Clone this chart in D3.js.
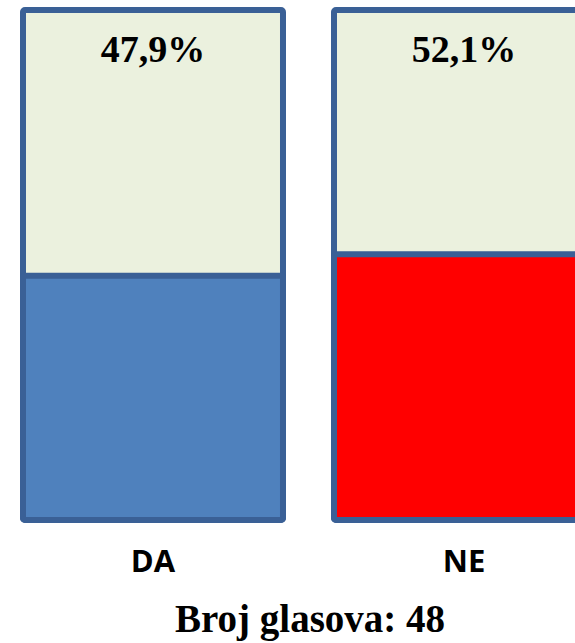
<!DOCTYPE html>
<html>
<head>
<meta charset="utf-8">
<script src="https://cdn.jsdelivr.net/npm/d3@7"></script>
<style>
  html, body { margin: 0; padding: 0; background: #fff; }
  svg { display: block; }
</style>
</head>
<body>
<svg id="chart" width="575" height="643"></svg>
<script>
const categories = ["DA", "NE"];
const percentValues = [47.9, 52.1];
const percentLabels = ["47,9%", "52,1%"];
const fillColors = ["#4F81BD", "#FF0000"];
const footerText = "Broj glasova: 48";

const svg = d3.select("#chart");
const strokeW = 6;
const borderColor = "#3A6096";
const emptyColor = "#EBF1DE";

const x = d3.scaleBand().domain(categories).range([20, 597]).paddingInner(0.1447).paddingOuter(0);
const y = d3.scaleLinear().domain([0, 100]).range([520, 10]);

const g = svg.append("g");
const bars = g.selectAll("g.bar").data(categories).join("g").attr("class", "bar");

// full container (empty part)
bars.append("rect")
  .attr("x", d => x(d) + strokeW / 2)
  .attr("y", y(100))
  .attr("width", x.bandwidth() - strokeW)
  .attr("height", y(0) - y(100))
  .attr("rx", 2)
  .attr("fill", emptyColor)
  .attr("stroke", borderColor)
  .attr("stroke-width", strokeW);

// filled portion
bars.append("rect")
  .attr("x", d => x(d) + strokeW / 2)
  .attr("y", (d, i) => y(percentValues[i]))
  .attr("width", x.bandwidth() - strokeW)
  .attr("height", (d, i) => y(0) - y(percentValues[i]))
  .attr("rx", 2)
  .attr("fill", (d, i) => fillColors[i])
  .attr("stroke", borderColor)
  .attr("stroke-width", strokeW);

// percentage labels
bars.append("text")
  .attr("x", d => x(d) + x.bandwidth() / 2)
  .attr("y", 62)
  .attr("text-anchor", "middle")
  .attr("font-family", "'Liberation Serif', 'Times New Roman', serif")
  .attr("font-weight", "bold")
  .attr("font-size", 38)
  .attr("fill", "#000")
  .text((d, i) => percentLabels[i]);

// category labels
bars.append("text")
  .attr("x", d => x(d) + x.bandwidth() / 2)
  .attr("y", 572)
  .attr("text-anchor", "middle")
  .attr("font-family", "'Open Sans', sans-serif")
  .attr("font-weight", "bold")
  .attr("font-size", 31)
  .attr("fill", "#000")
  .text(d => d);

// footer
svg.append("text")
  .attr("x", 310)
  .attr("y", 632)
  .attr("text-anchor", "middle")
  .attr("font-family", "'Liberation Serif', 'Times New Roman', serif")
  .attr("font-weight", "bold")
  .attr("font-size", 39)
  .attr("fill", "#000")
  .text(footerText);
</script>
</body>
</html>
